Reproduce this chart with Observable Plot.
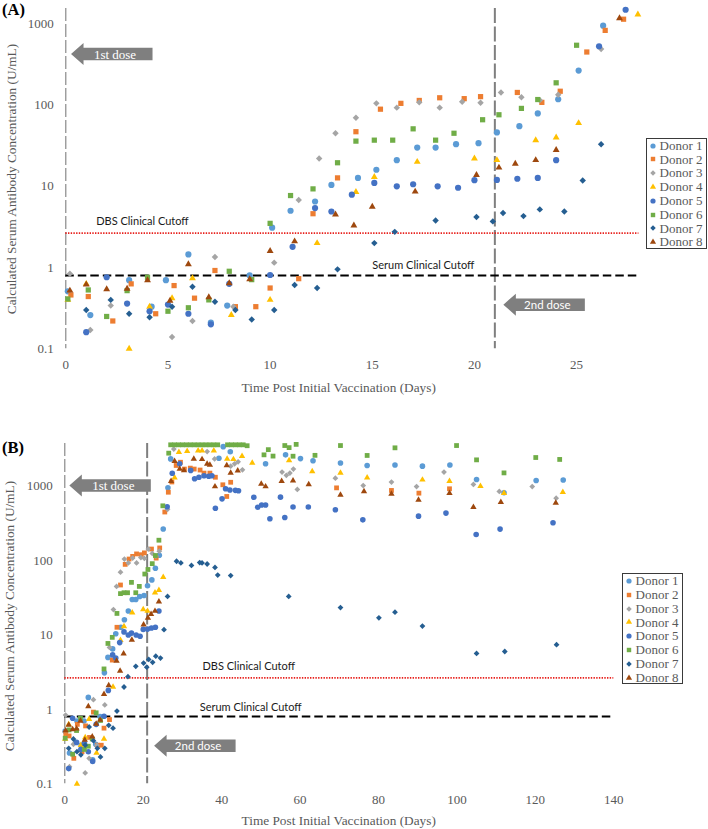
<!DOCTYPE html>
<html><head><meta charset="utf-8">
<script src="https://cdn.jsdelivr.net/npm/d3@7"></script>
<script src="https://cdn.jsdelivr.net/npm/@observablehq/plot@0.6"></script>
<style>
html,body{margin:0;padding:0;background:#fff;}
#wrap{position:relative;width:708px;height:829px;overflow:hidden;}
.panel{position:absolute;left:0;}
.lbl{position:absolute;font-family:"Liberation Serif","Times New Roman",serif;color:#595959;font-size:13.3px;white-space:nowrap;line-height:1;transform:translate(-50%,-50%);}
.ylbl{transform:translate(-50%,-50%) rotate(-90deg);}
.tag{position:absolute;font-family:"Liberation Serif","Times New Roman",serif;font-weight:bold;font-size:16.5px;color:#000;line-height:1;transform:translateY(-50%);}
.legend{position:absolute;border:1.5px solid #3a3a3a;background:#fff;box-sizing:border-box;}
.lrow{position:absolute;left:0;height:13.8px;line-height:13.8px;font-family:"Liberation Serif","Times New Roman",serif;font-size:13px;color:#595959;white-space:nowrap;}
.lrow svg{position:absolute;left:2px;top:2.9px;}
.lrow span{position:absolute;left:13px;}
</style>
</head><body>
<div id="wrap"></div>
<script>
// ---------- data: [day, U/mL] ----------
const donorNames = ["Donor 1","Donor 2","Donor 3","Donor 4","Donor 5","Donor 6","Donor 7","Donor 8"];
const donorColors = ["#5B9BD5","#ED7D31","#A5A5A5","#FFC000","#4472C4","#70AD47","#255E91","#9E480E"];
const donorSymbols = ["circle","square","diamond2","triangle","circle","square","diamond2","triangle"];

const donor1 = [[0.1,0.51],[1.2,0.26],[3.1,0.70],[4.2,0.33],[4.9,0.70],[6,1.45],[7.1,0.21],[7.9,0.34],[9,0.80],[10.1,3.1],[11,5.0],[12.2,6.5],[13,10.4],[14.3,12.7],[15.2,16],[16.2,21],[17.2,30],[18.1,30],[19.1,33],[20.2,34],[21.1,46],[22.2,55],[23.1,79],[24.1,118],[25.1,266],[26.3,950],
  [27,2330],[39.3,2380],[40.4,3400],[42.2,2900],[51.2,2000],[56.3,2640],[60.1,2350],[63.3,2200],[70.3,2050],[77.1,1900],[84.2,1930],[91.2,1860],[98.2,1930],[105,1230],[112,815],[120.2,1195],[127.1,1210]];
const donor2 = [[0.25,0.46],[1.1,0.44],[2.3,0.22],[3.2,0.63],[4.4,0.27],[5.3,0.60],[6.3,0.42],[7.3,0.92],[8.3,0.33],[9.3,0.33],[10,0.56],[11.4,0.73],[12.1,4.6],[13.3,12.7],[14.2,47],[15.4,89],[16.4,105],[17.3,114],[18.3,123],[19.5,120],[20.3,127],[22.1,143],[23.3,108],[24.2,148],[25.5,450],[26.4,830],[27.3,1140],
  [28.4,1900],[29.5,2100],[30.5,1700],[32,1750],[33,1700],[34.5,1650],[35.5,1500],[37,1500],[38.4,1320],[40.3,1045],[41.3,728],[42.3,1130],[69.3,950],[83.3,877],[90.3,807],[98.1,923]];
const donor3 = [[0.2,0.84],[1.2,0.17],[2.2,0.34],[5.2,0.14],[6.2,0.22],[7.3,1.35],[8.2,0.33],[10.2,1.15],[11.4,6.8],[12.4,22],[13.2,45],[14.2,70],[15.2,105],[16.2,93],[17.3,108],[18.3,93],[19.4,110],[20.3,107],[21.3,143],[22.3,125],[23.2,115],[24.1,134],[26.2,490],
  [27.8,3160],[36.3,2920],[38.2,2330],[42.3,1860],[43.3,2000],[44.2,2130],[45.3,1660],[55.4,1550],[56.5,1400],[57.4,1500],[58.3,1700],[59.3,904],[69,1280],[76.1,1020],[83.3,1135],[89.7,990],[96.7,1550],[104.2,1055],[110.8,850],[119.2,990],[125.3,690]];
const donor4 = [[0.1,0.40],[1,0.63],[3.1,0.10],[4.1,0.33],[5.2,0.42],[6.2,0.74],[8.1,0.26],[10,0.40],[12.3,2.0],[14.2,8.5],[15.1,13],[17.2,20],[20,22],[21.1,21],[23,37],[24,40],[25.1,60],[28,1300],
  [29.1,2860],[31.2,2950],[34,3000],[35,3000],[38,3000],[41.4,2330],[43,2300],[45.2,2530],[47.8,2060],[57.2,2220],[63.1,1580],[70.3,1510],[77.1,1300],[91.2,1220],[98.1,1170],[106,1000],[112,807],[127,832]];
const donor5 = [[1,0.16],[2,0.76],[3,0.36],[4.1,0.29],[5,0.35],[6,0.27],[7.1,0.20],[8,0.63],[10,0.81],[11.1,1.8],[12.2,5.4],[13,4.9],[14,7.9],[15.1,11],[16.2,10],[17,10.6],[18.2,10],[19.2,9.6],[20,11.9],[21.1,12],[22.1,12.4],[23.1,12.7],[24,21],[26.1,530],[27.4,1490],
  [29.3,2000],[32.1,1630],[33.1,1260],[34.2,1320],[35.5,1380],[36.7,1360],[37.5,1380],[38.4,506],[40.1,676],[41,923],[42.1,890],[43.5,880],[44.3,870],[48.2,711],[49.2,522],[50.2,560],[51.2,560],[52.3,365],[55,713],[56.1,380],[58.2,525],[62.1,525],[69,482],[76,353],[90.2,396],[97.2,435],[104.9,224],[111,265],[124.5,322]];
const donor6 = [[0.1,0.41],[1.1,0.53],[2,0.25],[3,0.52],[4,0.76],[5,0.29],[6,0.32],[7,0.40],[8,0.90],[9.1,0.71],[10,3.5],[11,7.7],[12.1,9.3],[13.3,19.5],[14.2,36],[15.1,37],[16,37],[17,51],[18.1,37],[19,45],[20.4,66],[21.2,76],[22.3,91],[23.1,117],[24,188],[25,545],
  [26.5,2780],[27,3600],[28,3600],[29,3600],[30,3600],[31,3600],[32,3600],[33,3600],[34,3600],[35,3600],[36,3600],[37,3600],[38,3600],[39,3600],[41.5,3600],[42.5,3600],[43.5,3600],[44.5,3600],[45.5,3600],[46.5,3500],[50.8,2640],[51.9,3100],[53.1,2540],[56.1,3520],[57.2,3300],[58.2,2530],[59,3650],[63.8,2600],[70.3,3520],[77.1,2590],[84.2,3280],[99.9,3520],[105,2260],[112,1510],[120.1,2430],[126.2,2290]];
const donor7 = [[1,0.30],[2.2,0.40],[3.1,0.27],[4.1,0.245],[5.2,0.33],[6.2,0.58],[7.3,0.38],[8.3,0.30],[9.1,0.23],[10.2,0.30],[11.2,0.61],[12.3,0.56],[13.3,0.95],[15.1,2.0],[16.1,2.75],[18.1,3.8],[20.1,4.2],[20.9,3.7],[21.4,4.7],[22.4,4.3],[23.2,5.2],[24.4,4.9],[25.3,11.8],[26.2,33],
  [28.5,98],[29.6,93],[32.3,86],[34.4,94],[35,93],[36.3,90],[38.3,81],[39,64],[42.3,63],[57.1,33],[70.3,23.4],[80.1,17],[84.2,20.3],[91.2,13.2],[105,5.65],[112.2,6.0],[125.4,7.4]];
const donor8 = [[0.2,0.52],[1,0.62],[2,0.54],[3,0.55],[4,0.70],[5.1,0.39],[6,1.1],[7,0.43],[8,0.64],[9,0.72],[10,1.6],[11.2,2.1],[13.2,4.5],[14.1,3.3],[15,5.6],[17.1,8.6],[20.1,13.8],[21.2,17],[22,19],[23,21],[24,28],[27.1,1170],
  [28,2170],[29.3,1710],[30.4,1630],[32.9,2330],[35,2300],[36.3,2000],[37,1930],[38.3,990],[41.3,1900],[42.3,1510],[44.1,1620],[50.1,1075],[51.2,990],[55.3,1170],[58.2,1190],[62.2,1055],[70.3,766],[76.3,850],[83.3,790],[90.2,656],[98.1,807],[104.2,523],[111.2,611],[125.2,598]];
const donorSeries = [donor1,donor2,donor3,donor4,donor5,donor6,donor7,donor8];

// reference lines and annotations
const cutoffLabels = ["DBS Clinical Cutoff","Serum Clinical Cutoff"];
const cutoffValues = [2.65, 0.8];
const doseLabels = ["1st dose","2nd dose"];
const doseDays = [0, 21];
const yTicks = [0.1, 1, 10, 100, 1000];
const xTicksA = [0, 5, 10, 15, 20, 25];
const xTicksB = [0, 20, 40, 60, 80, 100, 120, 140];
const xTitle = "Time Post Initial Vaccination (Days)";
const yTitle = "Calculated Serum Antibody Concentration (U/mL)";

// ---------- drawing ----------
const wrap = document.getElementById("wrap");
const sizeA = {circle:3.1, square:2.95, diamond2:2.9, triangle:2.55};
const sizeB = {circle:2.8, square:2.7, diamond2:2.6, triangle:2.35};

function panel(cfg) {
  const dots = donorSeries.map((s, i) => Plot.dot(s.filter(cfg.keep), {
    x: d => d[0], y: d => d[1], fill: donorColors[i], symbol: donorSymbols[i],
    r: cfg.size[donorSymbols[i]], stroke: "none"
  }));
  const svg = Plot.plot({
    width: 708, height: cfg.height,
    marginLeft: cfg.ml, marginRight: cfg.mr, marginTop: cfg.mt, marginBottom: cfg.mb,
    style: {fontFamily: '"Liberation Serif","Times New Roman",serif', fontSize: "13px", color: "#595959", background: "transparent", overflow: "visible"},
    x: {domain: cfg.xDomain, ticks: cfg.xTicks, tickSize: 0, tickPadding: 11, label: null, tickFormat: d => String(d)},
    y: {type: "log", domain: cfg.yDomain, ticks: yTicks, tickSize: 0, tickPadding: 12, label: null,
        tickFormat: d => d >= 1 ? d3.format("d")(d) : String(d)},
    marks: [
      Plot.ruleX([doseDays[0]], {stroke: "#7f7f7f", strokeWidth: 1.1, strokeDasharray: "13,3"}),
      Plot.ruleX([doseDays[1]], {stroke: "#7f7f7f", strokeWidth: 2, strokeDasharray: "15,3.5"}),
      Plot.ruleY([cutoffValues[0]], {stroke: "#e8201c", strokeWidth: 1.7, strokeDasharray: "1.4,1.3"}),
      Plot.ruleY([cutoffValues[1]], {stroke: "#000", strokeWidth: 2, strokeDasharray: "8.5,4"}),
      Plot.text(cfg.cutoffPos, {x: d => d[0], y: d => d[1], text: (d, i) => cutoffLabels[i],
        fontFamily: "Lato, 'Open Sans', sans-serif", fontSize: 11, fill: "#1a1a1a"}),
      ...dots
    ]
  });
  svg.classList.add("panel");
  svg.style.top = cfg.top + "px";
  const sx = svg.scale("x"), sy = svg.scale("y");
  const g = d3.select(svg).append("g");
  cfg.arrows.forEach((a, i) => {
    const tx = sx.apply(a[0]), ty = sy.apply(a[1]);
    const hl = 12.5, hh = 11, bh = 6.3, L = 81.5;
    g.append("path")
      .attr("d", `M${tx},${ty}L${tx+hl},${ty-hh}L${tx+hl},${ty-bh}L${tx+L},${ty-bh}L${tx+L},${ty+bh}L${tx+hl},${ty+bh}L${tx+hl},${ty+hh}Z`)
      .attr("fill", "#7f7f7f");
    g.append("text")
      .attr("x", tx + 44).attr("y", ty).attr("dy", "0.35em")
      .attr("text-anchor", "middle").attr("fill", "#fff")
      .attr("font-family", i === 0 ? '"Liberation Serif","Times New Roman",serif' : "Lato, 'Open Sans', sans-serif")
      .attr("font-size", i === 0 ? 13 : 11.5)
      .text(doseLabels[i]);
  });
  wrap.appendChild(svg);

  // titles
  const tag = document.createElement("div");
  tag.className = "tag"; tag.textContent = cfg.tag;
  tag.style.left = "2px"; tag.style.top = cfg.tagY + "px";
  wrap.appendChild(tag);
  const xl = document.createElement("div");
  xl.className = "lbl"; xl.textContent = xTitle;
  xl.style.left = cfg.xlPos[0] + "px"; xl.style.top = cfg.xlPos[1] + "px";
  wrap.appendChild(xl);
  const yl = document.createElement("div");
  yl.className = "lbl ylbl"; yl.textContent = yTitle;
  yl.style.left = cfg.ylPos[0] + "px"; yl.style.top = cfg.ylPos[1] + "px";
  wrap.appendChild(yl);

  // legend
  const lg = document.createElement("div");
  lg.className = "legend";
  lg.style.left = cfg.legend[0] + "px"; lg.style.top = cfg.legend[1] + "px";
  lg.style.width = cfg.legend[2] + "px"; lg.style.height = cfg.legend[3] + "px";
  const symMap = {circle: d3.symbolCircle, square: d3.symbolSquare, diamond2: d3.symbolDiamond2, triangle: d3.symbolTriangle};
  const lsize = {circle: 2.6, square: 2.5, diamond2: 2.5, triangle: 2.3};
  donorNames.forEach((name, i) => {
    const row = document.createElement("div");
    row.className = "lrow";
    row.style.top = (0.2 + i * 13.8) + "px";
    const s = d3.create("svg").attr("width", 8).attr("height", 8);
    const r = lsize[donorSymbols[i]];
    s.append("path").attr("transform", "translate(4,4)")
      .attr("d", d3.symbol(symMap[donorSymbols[i]], Math.PI * r * r)())
      .attr("fill", donorColors[i]);
    row.appendChild(s.node());
    const sp = document.createElement("span"); sp.textContent = name;
    row.appendChild(sp);
    lg.appendChild(row);
  });
  wrap.appendChild(lg);
}

// Panel A (first 4 weeks)
panel({
  top: 0, height: 410, ml: 65.3, mr: 69.6, mt: 8.1, mb: 61.7,
  xDomain: [0, 28.05], yDomain: [0.1, 1540], xTicks: xTicksA, size: sizeA,
  keep: d => d[0] <= 28.3 && d[1] <= 1560,
  cutoffPos: [[3.75, 3.72], [17.5, 1.06]],
  arrows: [[0.28, 419], [21.44, 0.344]],
  tag: "(A)", tagY: 10, xlPos: [338.7, 388], ylPos: [12, 179],
  legend: [645.5, 137.5, 61.5, 111]
});
// Panel B (full follow-up)
panel({
  top: 415, height: 414, ml: 64.3, mr: 94.7, mt: 28, mb: 45.7,
  xDomain: [0, 140], yDomain: [0.1, 3750], xTicks: xTicksB, size: sizeB,
  keep: d => true,
  cutoffPos: [[46.9, 3.81], [47.4, 1.07]],
  arrows: [[1.28, 1007], [22.9, 0.319]],
  tag: "(B)", tagY: 448, xlPos: [338.7, 821], ylPos: [10, 616],
  legend: [621.5, 573, 61, 111]
});
</script>
</body></html>
